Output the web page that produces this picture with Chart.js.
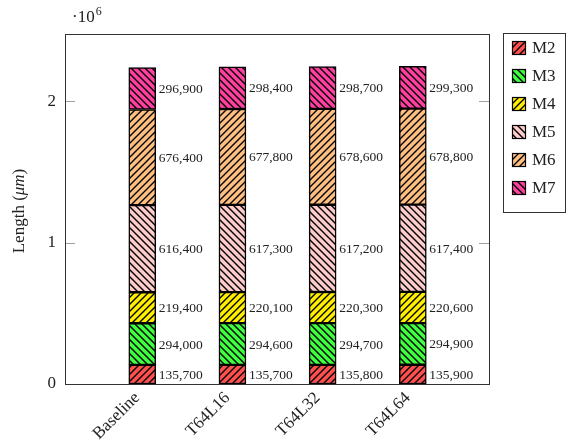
<!DOCTYPE html>
<html><head><meta charset="utf-8">
<script src="https://cdn.jsdelivr.net/npm/chart.js@4/dist/chart.umd.min.js"></script>
<style>html,body{margin:0;padding:0;background:#fff}#wrap{width:568px;height:443px}</style>
</head><body><div id="wrap"><canvas id="c" width="568" height="443"></canvas></div>
<script>
const categories = ['Baseline', 'T64L16', 'T64L32', 'T64L64'];
const seriesNames = ['M2', 'M3', 'M4', 'M5', 'M6', 'M7'];
const M2 = [135700, 135700, 135800, 135900];
const M3 = [294000, 294600, 294700, 294900];
const M4 = [219400, 220100, 220300, 220600];
const M5 = [616400, 617300, 617200, 617400];
const M6 = [676400, 677800, 678600, 678800];
const M7 = [296900, 298400, 298700, 299300];
const yTicks = [0, 1000000, 2000000];
const seriesValues = [M2, M3, M4, M5, M6, M7];
const colors = ['#ff5050', '#40ff40', '#ffee00', '#ffcccc', '#ffbf80', '#ff40a0'];
const hatchDir = ['/', '\\', '/', '\\', '/', '\\'];

const SERIF = '"Liberation Serif", "DejaVu Serif", serif';

function makePattern(color, dir) {
  const s = 7;
  const cv = document.createElement('canvas');
  cv.width = s; cv.height = s;
  const g = cv.getContext('2d');
  g.fillStyle = color; g.fillRect(0, 0, s, s);
  g.strokeStyle = '#000'; g.lineWidth = 1.4;
  g.beginPath();
  if (dir === '/') {
    g.moveTo(-1, s + 1); g.lineTo(s + 1, -1);
    g.moveTo(-2, 2); g.lineTo(2, -2);
    g.moveTo(s - 2, s + 2); g.lineTo(s + 2, s - 2);
  } else {
    g.moveTo(-1, -1); g.lineTo(s + 1, s + 1);
    g.moveTo(-2, s - 2); g.lineTo(2, s + 2);
    g.moveTo(s - 2, -2); g.lineTo(s + 2, 2);
  }
  g.stroke();
  const ctx = document.getElementById('c').getContext('2d');
  return ctx.createPattern(cv, 'repeat');
}

const patterns = colors.map((c, i) => makePattern(c, hatchDir[i]));

const datasets = seriesNames.map((name, i) => ({
  label: name,
  data: seriesValues[i].map((v, j) => ({ x: j, y: v })),
  backgroundColor: patterns[i],
  borderColor: '#000',
  borderWidth: 1.5,
  borderSkipped: false,
  barThickness: 27
}));

const fmt = v => v.toLocaleString('en-US');

const decor = {
  id: 'decor',
  afterDatasetsDraw(chart) {
    const ctx = chart.ctx;
    const a = chart.chartArea;
    const ys = chart.scales.y;
    ctx.save();
    // value labels
    ctx.font = '13.5px ' + SERIF;
    ctx.fillStyle = '#222';
    ctx.textAlign = 'left';
    ctx.textBaseline = 'middle';
    chart.data.datasets.forEach((ds, di) => {
      const meta = chart.getDatasetMeta(di);
      meta.data.forEach((el, j) => {
        const v = seriesValues[di][j];
        ctx.fillText(fmt(v), el.x + el.width / 2 + 3, (el.y + el.base) / 2 + 1);
      });
    });
    // inner ticks
    ctx.strokeStyle = '#a0a0a0';
    ctx.lineWidth = 1;
    yTicks.forEach(t => {
      const y = Math.round(ys.getPixelForValue(t)) + 0.5;
      ctx.beginPath();
      ctx.moveTo(a.left, y); ctx.lineTo(a.left + 10, y);
      ctx.moveTo(a.right, y); ctx.lineTo(a.right - 10, y);
      ctx.stroke();
    });
    // frame
    ctx.strokeStyle = '#333';
    ctx.lineWidth = 1;
    ctx.strokeRect(Math.round(a.left) + 0.5, Math.round(a.top) + 0.5, Math.round(a.right - a.left), Math.round(a.bottom - a.top));
    // exponent
    ctx.fillStyle = '#222';
    ctx.textBaseline = 'alphabetic';
    ctx.font = '17px ' + SERIF;
    ctx.fillText('\u00b710', 72, 22);
    const w = ctx.measureText('\u00b710').width;
    ctx.font = '12px ' + SERIF;
    ctx.fillText('6', 72 + w + 1, 15);
    // y title
    ctx.save();
    ctx.translate(24, 211);
    ctx.rotate(-Math.PI / 2);
    const p1 = 'Length (', p2 = '\u03bcm', p3 = ')';
    ctx.font = '17px ' + SERIF;
    const w1 = ctx.measureText(p1).width, w3 = ctx.measureText(p3).width;
    ctx.font = 'italic 17px ' + SERIF;
    const w2 = ctx.measureText(p2).width;
    let x0 = -(w1 + w2 + w3) / 2;
    ctx.textAlign = 'left';
    ctx.font = '17px ' + SERIF; ctx.fillText(p1, x0, 0);
    ctx.font = 'italic 17px ' + SERIF; ctx.fillText(p2, x0 + w1, 0);
    ctx.font = '17px ' + SERIF; ctx.fillText(p3, x0 + w1 + w2, 0);
    ctx.restore();
    // legend
    ctx.strokeStyle = '#333';
    ctx.lineWidth = 1;
    ctx.strokeRect(503.5, 33.5, 62, 179);
    ctx.font = '17px ' + SERIF;
    ctx.textBaseline = 'middle';
    seriesNames.forEach((n, i) => {
      const cy = 48 + 28 * i;
      ctx.fillStyle = patterns[i];
      ctx.fillRect(512, cy - 7, 14, 14);
      ctx.strokeStyle = '#000';
      ctx.lineWidth = 1.2;
      ctx.strokeRect(512.5, cy - 6.5, 13, 13);
      ctx.fillStyle = '#222';
      ctx.fillText(n, 532, cy + 1);
    });
    ctx.restore();
  }
};

new Chart(document.getElementById('c'), {
  type: 'bar',
  data: { datasets },
  options: {
    responsive: false,
    animation: false,
    layout: { padding: { left: 0, top: 34, right: 79, bottom: 0 } },
    plugins: { legend: { display: false }, tooltip: { enabled: false } },
    scales: {
      x: {
        type: 'linear',
        stacked: true,
        offset: false,
        min: -0.857,
        max: 3.845,
        grid: { display: false, drawTicks: false, offset: false },
        border: { display: false },
        afterBuildTicks: s => { s.ticks = categories.map((c, i) => ({ value: i })); },
        afterFit: s => { s.height = 59; },
        ticks: {
          callback: v => categories[v] ?? '',
          minRotation: 45, maxRotation: 45,
          autoSkip: false,
          padding: 4,
          labelOffset: -5,
          color: '#222',
          font: { family: SERIF, size: 17 }
        }
      },
      y: {
        stacked: true,
        min: 0,
        max: 2476000,
        grid: { display: false, drawTicks: false },
        border: { display: false },
        afterBuildTicks: s => { s.ticks = yTicks.map(v => ({ value: v })); },
        afterFit: s => { s.width = 65; },
        ticks: {
          callback: v => String(v / 1000000),
          padding: 9,
          color: '#222',
          font: { family: SERIF, size: 17 }
        }
      }
    }
  },
  plugins: [decor]
});
</script></body></html>
